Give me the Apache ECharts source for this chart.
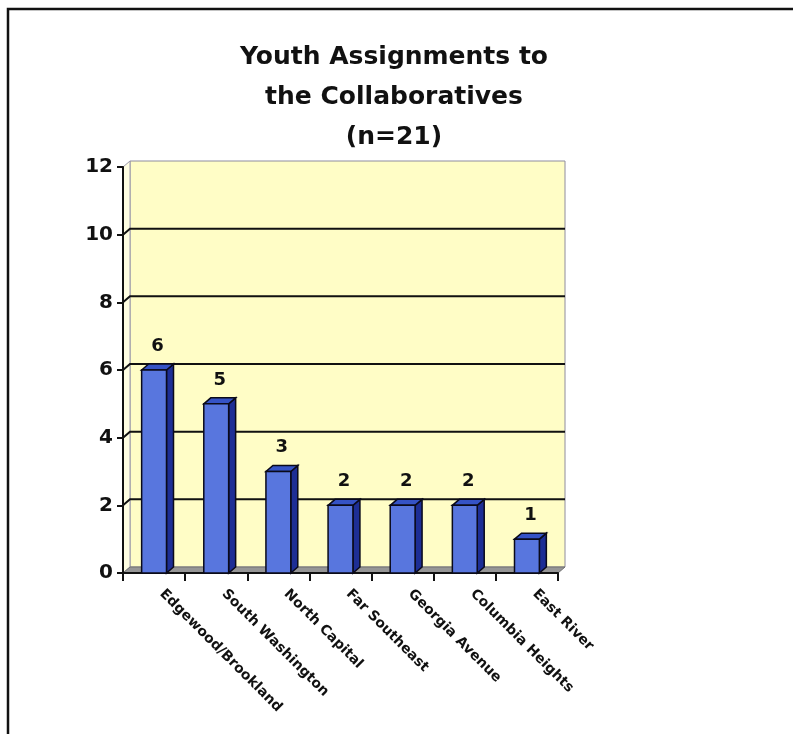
<!DOCTYPE html>
<html>
<head>
<meta charset="utf-8">
<script src="https://cdn.jsdelivr.net/npm/echarts@6/dist/echarts.min.js"></script>
<style>
  html, body { margin: 0; padding: 0; background: #ffffff; }
  #chart { width: 793px; height: 734px; }
</style>
</head>
<body>
<div id="chart"></div>
<script>
// Youth assignments per collaborative
const categories = ['Edgewood/Brookland', 'South Washington', 'North Capital', 'Far Southeast', 'Georgia Avenue', 'Columbia Heights', 'East River'];
const counts = [6, 5, 3, 2, 2, 2, 1];
// Horizontal rules drawn on the back wall
const wallLines = [2, 4, 6, 8, 10];
const yMin = 0, yMax = 12, yStep = 2;

// Depth of the pseudo-3D box (right, up)
const DX = 7, DY = -6;
const FONT = 'DejaVu Sans';

const chart = echarts.init(document.getElementById('chart'), null, { renderer: 'canvas' });

// Back wall, left side wall, floor and wall rules
function renderWalls(params, api) {
  const cs = params.coordSys;
  const x0 = cs.x, x1 = cs.x + cs.width, yt = cs.y, yb = cs.y + cs.height;
  const children = [
    { type: 'rect', shape: { x: x0 + DX, y: yt + DY, width: cs.width, height: cs.height },
      style: { fill: '#FFFDC6', stroke: '#8e8c9e', lineWidth: 1 } },
    { type: 'polygon', shape: { points: [[x0, yb], [x0 + DX, yb + DY], [x0 + DX, yt + DY], [x0, yt]] },
      style: { fill: '#FFFEE2', stroke: '#9c9aac', lineWidth: 1 } },
    { type: 'polygon', shape: { points: [[x0, yb], [x1, yb], [x1 + DX, yb + DY], [x0 + DX, yb + DY]] },
      style: { fill: '#969696', stroke: '#707070', lineWidth: 1 } }
  ];
  wallLines.forEach(function (v) {
    const y = api.coord([0, v])[1];
    children.push({ type: 'polyline', shape: { points: [[x0, y], [x0 + DX, y + DY], [x1 + DX, y + DY]] },
      style: { stroke: '#111111', lineWidth: 2, fill: null } });
  });
  return { type: 'group', children: children };
}

// One 3D bar: front face, right side, top, plus its value label
function renderBar(params, api) {
  const i = api.value(0), v = api.value(1);
  const base = api.coord([i, 0]);
  const top = api.coord([i, v]);
  const w = api.size([1, 0])[0] * 0.40;
  const xl = top[0] - w / 2, xr = top[0] + w / 2;
  const edge = { stroke: '#0a0a1a', lineWidth: 1.5 };
  return {
    type: 'group',
    children: [
      { type: 'polygon', shape: { points: [[xr, top[1]], [xr + DX, top[1] + DY], [xr + DX, base[1] + DY], [xr, base[1]]] },
        style: Object.assign({ fill: '#1d2e95' }, edge) },
      { type: 'polygon', shape: { points: [[xl, top[1]], [xl + DX, top[1] + DY], [xr + DX, top[1] + DY], [xr, top[1]]] },
        style: Object.assign({ fill: '#3553c6' }, edge) },
      { type: 'rect', shape: { x: xl, y: top[1], width: w, height: base[1] - top[1] },
        style: Object.assign({ fill: '#5876de' }, edge) },
      { type: 'text', x: top[0] + DX / 2, y: top[1] + DY - 9,
        style: { text: String(v), fill: '#111111', font: 'bold 18px "' + FONT + '"', align: 'center', verticalAlign: 'bottom' } }
    ]
  };
}

const option = {
  backgroundColor: '#ffffff',
  animation: false,
  title: {
    text: 'Youth Assignments to\nthe Collaboratives\n(n=21)',
    left: 389,
    textAlign: 'center',
    top: 32,
    textStyle: { fontFamily: FONT, fontWeight: 'bold', fontSize: 25, lineHeight: 40, color: '#111111' }
  },
  graphic: [
    { type: 'polyline', shape: { points: [[8, 740], [8, 9], [800, 9]] },
      style: { stroke: '#111111', lineWidth: 2.5, fill: null }, z: 10 }
  ],
  grid: { left: 123, top: 167, width: 435, height: 406, containLabel: false },
  xAxis: {
    type: 'category',
    data: categories,
    z: 2,
    axisLine: { show: true, lineStyle: { color: '#111111', width: 2 } },
    axisTick: { show: true, length: 8, lineStyle: { color: '#111111', width: 2 } },
    axisLabel: {
      interval: 0, rotate: -45, margin: 11, padding: [0, 0, 0, 11],
      fontFamily: FONT, fontWeight: 'bold', fontSize: 14, color: '#111111'
    },
    splitLine: { show: false }
  },
  yAxis: {
    type: 'value',
    min: yMin, max: yMax, interval: yStep,
    z: 2,
    axisLine: { show: true, lineStyle: { color: '#111111', width: 2 } },
    axisTick: { show: true, length: 6, lineStyle: { color: '#111111', width: 2 } },
    axisLabel: { margin: 10, fontFamily: FONT, fontWeight: 'bold', fontSize: 20, color: '#111111' },
    splitLine: { show: false }
  },
  series: [
    { type: 'custom', name: 'walls', z: 1, silent: true, clip: false,
      renderItem: renderWalls, data: [[0, 0]] },
    { type: 'custom', name: 'Youth assigned', z: 3, clip: false,
      renderItem: renderBar,
      data: counts.map(function (c, i) { return [i, c]; }) }
  ]
};

chart.setOption(option);
</script>
</body>
</html>
